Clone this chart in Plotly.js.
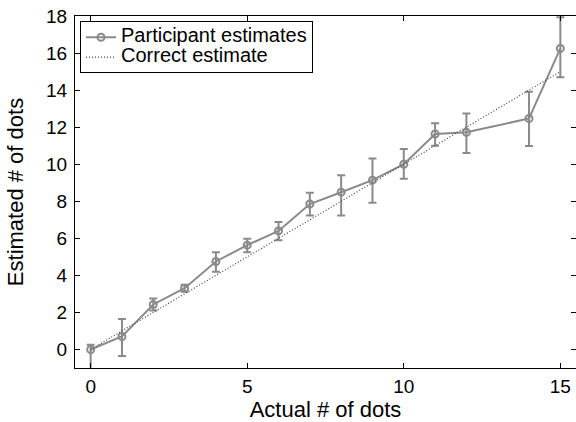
<!DOCTYPE html>
<html>
<head>
<meta charset="utf-8">
<script src="https://cdn.plot.ly/plotly-3.0.1.min.js"></script>
<style>
  html, body { margin: 0; padding: 0; background: #fff; }
  #chart { width: 576px; height: 422px; }
</style>
</head>
<body>
<div id="chart"></div>
<script>
// Data
var actualDots = [0, 1, 2, 3, 4, 5, 6, 7, 8, 9, 10, 11, 12, 14, 15];
var participantMean = [0.0, 0.70, 2.43, 3.31, 4.75, 5.63, 6.40, 7.85, 8.49, 9.14, 10.0, 11.63, 11.72, 12.47, 16.25];
var errorPlus  = [0.25, 0.94, 0.32, 0.19, 0.50, 0.35, 0.48, 0.61, 0.92, 1.17, 0.82, 0.58, 1.02, 1.44, 1.68];
var errorMinus = [1.50, 1.05, 0.32, 0.19, 0.56, 0.38, 0.50, 0.62, 1.26, 1.22, 0.79, 0.63, 1.12, 1.49, 1.55];
var correctX = [0, 1, 2, 3, 4, 5, 6, 7, 8, 9, 10, 11, 12, 14, 15];
var correctY = [0, 1, 2, 3, 4, 5, 6, 7, 8, 9, 10, 11, 12, 14, 15];
var seriesNames = ['Participant estimates', 'Correct estimate'];
var xTicks = [0, 5, 10, 15];
var yTicks = [0, 2, 4, 6, 8, 10, 12, 14, 16, 18];

var gray = '#8a8a8a';
var fontFam = 'Liberation Sans, Arial, Helvetica, sans-serif';
function legendName(s) { return '<span style="font-size:20px">' + s + '</span>'; }

var traces = [
  {
    x: actualDots,
    y: participantMean,
    name: legendName(seriesNames[0]),
    type: 'scatter',
    mode: 'lines+markers',
    line: { color: gray, width: 2 },
    marker: { symbol: 'circle-open', size: 7, color: gray, line: { width: 2, color: gray } },
    error_y: {
      type: 'data', symmetric: false,
      array: errorPlus, arrayminus: errorMinus,
      color: gray, thickness: 2, width: 4
    },
    cliponaxis: true
  },
  {
    x: correctX,
    y: correctY,
    name: legendName(seriesNames[1]),
    type: 'scatter',
    mode: 'lines',
    line: { color: '#444444', width: 1.2, dash: '1px,2px' }
  }
];

var axisCommon = {
  showgrid: false,
  zeroline: false,
  showline: true,
  linecolor: '#000',
  linewidth: 1,
  mirror: 'allticks',
  ticks: 'inside',
  ticklen: 5,
  tickcolor: '#000',
  tickfont: { family: fontFam, size: 19, color: '#000' }
};

var layout = {
  width: 576,
  height: 422,
  margin: { l: 75, r: 0, t: 16, b: 54 },
  paper_bgcolor: '#fff',
  plot_bgcolor: '#fff',
  font: { family: fontFam, color: '#000' },
  showlegend: true,
  legend: {
    x: 0.01, y: 0.985, xanchor: 'left', yanchor: 'top',
    bgcolor: '#fff', bordercolor: '#000', borderwidth: 1,
    font: { family: fontFam, size: 13, color: '#000' },
    tracegroupgap: 0, itemwidth: 30
  },
  xaxis: Object.assign({}, axisCommon, {
    range: [-0.5, 15.5],
    tickvals: xTicks,
    ticktext: xTicks.map(String),
    ticklabelstandoff: 1,
    title: { text: 'Actual # of dots', font: { family: fontFam, size: 22, color: '#000' }, standoff: 2 }
  }),
  yaxis: Object.assign({}, axisCommon, {
    range: [-1, 18],
    tickvals: yTicks,
    ticktext: yTicks.map(String),
    ticklabelstandoff: 3,
    title: { text: 'Estimated # of dots', font: { family: fontFam, size: 22, color: '#000' }, standoff: 16 }
  })
};

Plotly.newPlot('chart', traces, layout, { displayModeBar: false, staticPlot: true });
</script>
</body>
</html>
